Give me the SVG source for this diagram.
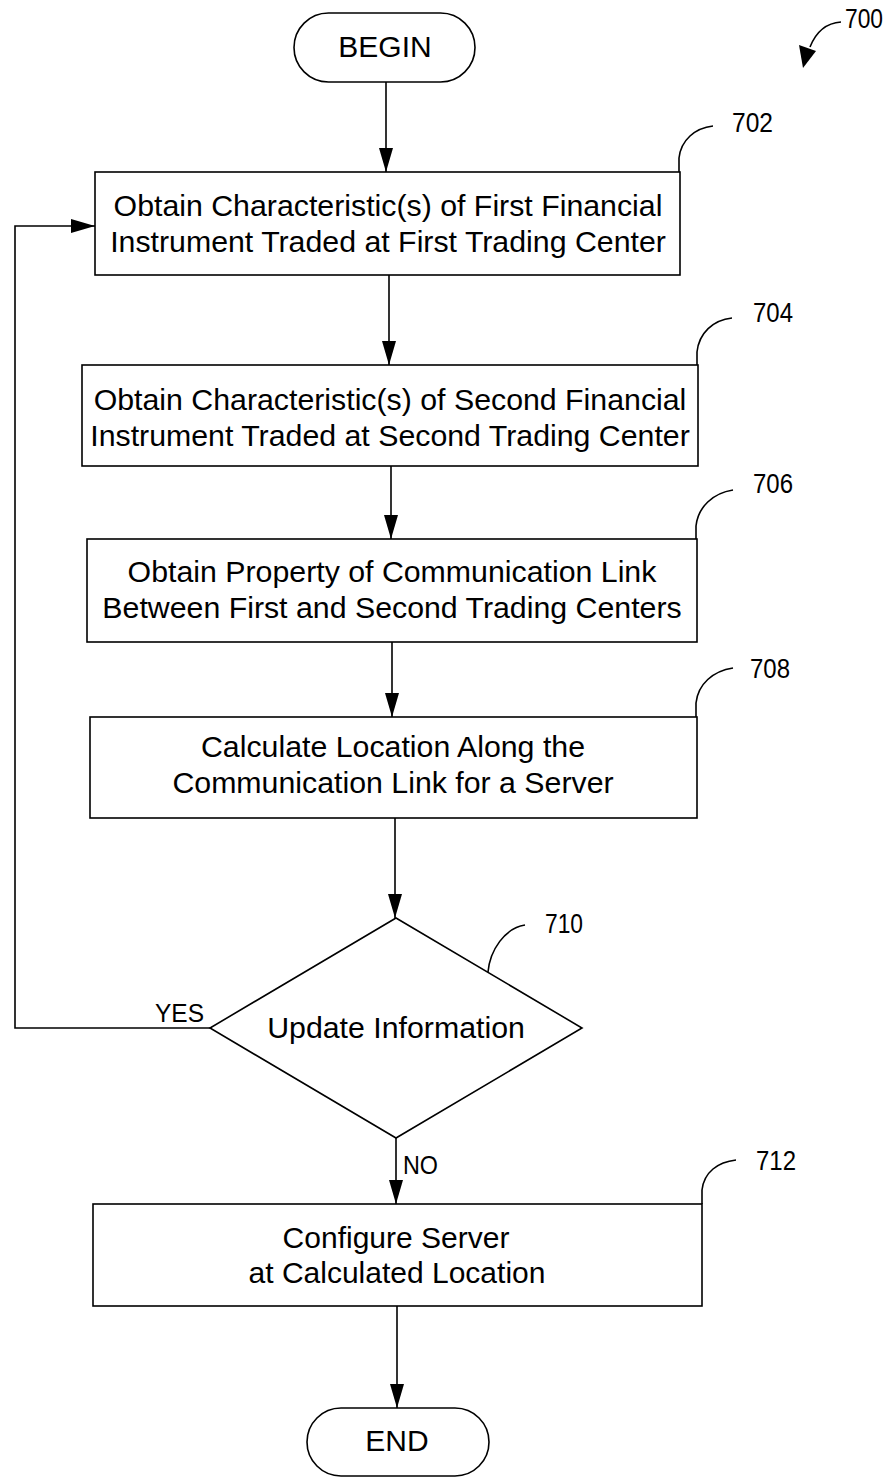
<svg xmlns="http://www.w3.org/2000/svg" width="890" height="1478" viewBox="0 0 890 1478">
<style>
.shape{fill:#fff;stroke:#000;stroke-width:1.6}
.t{font-family:"Liberation Sans",Arial,sans-serif;font-size:30px;fill:#000;text-anchor:middle}
.t2{font-size:30.3px}
.lbl{font-family:"Liberation Sans",Arial,sans-serif;font-size:27px;fill:#000}
.con{fill:none;stroke:#000;stroke-width:1.6}
.lead{fill:none;stroke:#000;stroke-width:1.6}
</style>
<defs>
<marker id="ah" markerUnits="userSpaceOnUse" markerWidth="24" markerHeight="14" refX="24" refY="7" orient="auto">
<path d="M0,0 L24,7 L0,14 z" fill="#000"/>
</marker>
</defs>
<rect width="890" height="1478" fill="#fff"/>

<g id="ref700">
<text class="lbl" x="845" y="28" textLength="38" lengthAdjust="spacingAndGlyphs">700</text>
<path class="lead" d="M841,22 C826,23 816,32 810,47"/>
<polygon points="803,68 799,45 816,51" fill="#000"/>
</g>

<g id="begin">
<rect class="shape" x="294" y="13" width="181" height="69" rx="34.5"/>
<text class="t" x="385" y="57">BEGIN</text>
</g>

<g id="n702">
<rect class="shape" x="95" y="172" width="585" height="103"/>
<text class="t t2" x="388" y="216">Obtain Characteristic(s) of First Financial</text>
<text class="t t2" x="388" y="252">Instrument Traded at First Trading Center</text>
<path class="lead" d="M679,172 L679,158 C681,140 695,128 713,126"/>
<text class="lbl" x="732" y="132" textLength="41" lengthAdjust="spacingAndGlyphs">702</text>
</g>

<g id="n704">
<rect class="shape" x="82" y="365" width="616" height="101"/>
<text class="t t2" x="390" y="410">Obtain Characteristic(s) of Second Financial</text>
<text class="t t2" x="390" y="446">Instrument Traded at Second Trading Center</text>
<path class="lead" d="M697,365 L697,352 C699,333 713,320 732,318"/>
<text class="lbl" x="753" y="322" textLength="40" lengthAdjust="spacingAndGlyphs">704</text>
</g>

<g id="n706">
<rect class="shape" x="87" y="539" width="610" height="103"/>
<text class="t t2" x="392" y="582">Obtain Property of Communication Link</text>
<text class="t t2" x="392" y="618">Between First and Second Trading Centers</text>
<path class="lead" d="M696,539 L696,526 C698,507 713,493 733,490"/>
<text class="lbl" x="753" y="493" textLength="40" lengthAdjust="spacingAndGlyphs">706</text>
</g>

<g id="n708">
<rect class="shape" x="90" y="717" width="607" height="101"/>
<text class="t t2" x="393" y="757">Calculate Location Along the</text>
<text class="t t2" x="393" y="793">Communication Link for a Server</text>
<path class="lead" d="M696,717 L696,703 C698,684 713,671 733,668"/>
<text class="lbl" x="750" y="678" textLength="40" lengthAdjust="spacingAndGlyphs">708</text>
</g>

<g id="n710">
<polygon class="shape" points="396,918 582,1028 396,1138 210,1028"/>
<text class="t t2" x="396" y="1038">Update Information</text>
<path class="lead" d="M488,972 C490,950 505,928 525,925"/>
<text class="lbl" x="545" y="933" textLength="38" lengthAdjust="spacingAndGlyphs">710</text>
</g>

<g id="n712">
<rect class="shape" x="93" y="1204" width="609" height="102"/>
<text class="t" x="396" y="1248">Configure Server</text>
<text class="t" x="397" y="1283">at Calculated Location</text>
<path class="lead" d="M702,1204 L702,1190 C704,1172 718,1162 736,1160"/>
<text class="lbl" x="756" y="1170" textLength="40" lengthAdjust="spacingAndGlyphs">712</text>
</g>

<g id="end">
<rect class="shape" x="307" y="1408" width="182" height="68" rx="34"/>
<text class="t" x="397" y="1451">END</text>
</g>

<g id="connectors">
<line class="con" x1="386" y1="82" x2="386" y2="172" marker-end="url(#ah)"/>
<line class="con" x1="389" y1="275" x2="389" y2="365" marker-end="url(#ah)"/>
<line class="con" x1="391" y1="466" x2="391" y2="539" marker-end="url(#ah)"/>
<line class="con" x1="392" y1="642" x2="392" y2="717" marker-end="url(#ah)"/>
<line class="con" x1="395" y1="818" x2="395" y2="918" marker-end="url(#ah)"/>
<polyline class="con" points="210,1028 15,1028 15,226 95,226" marker-end="url(#ah)"/>
<line class="con" x1="396" y1="1138" x2="396" y2="1204" marker-end="url(#ah)"/>
<line class="con" x1="397" y1="1306" x2="397" y2="1408" marker-end="url(#ah)"/>
<text class="lbl" x="155" y="1022" style="font-size:25px" textLength="49" lengthAdjust="spacingAndGlyphs">YES</text>
<text class="lbl" x="403" y="1174" style="font-size:25px" textLength="35" lengthAdjust="spacingAndGlyphs">NO</text>
</g>
</svg>
